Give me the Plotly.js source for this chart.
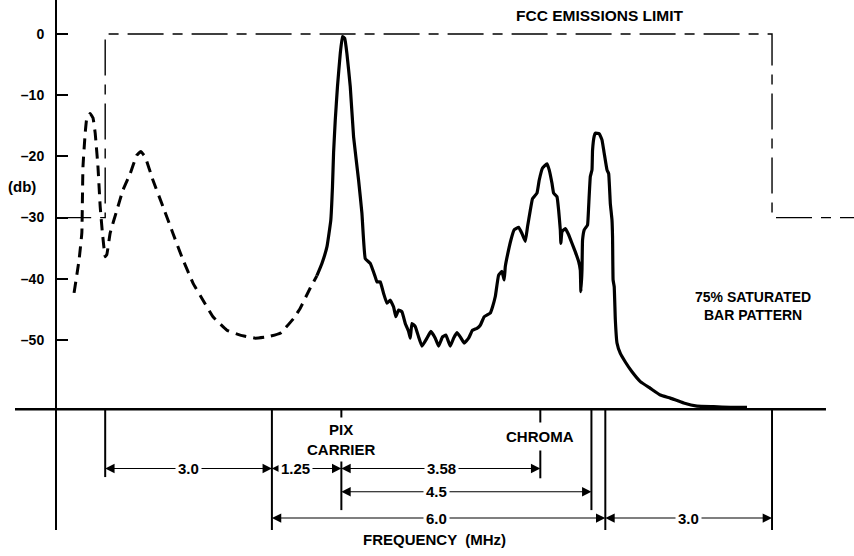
<!DOCTYPE html>
<html>
<head>
<meta charset="utf-8">
<script src="https://cdn.plot.ly/plotly-3.0.1.min.js"></script>
<style>html,body{margin:0;padding:0;background:#fff;}#chart{width:854px;height:556px;}</style>
</head>
<body>
<div id="chart"></div>
<script>
// ---- data (frequency in MHz relative to lower channel edge, level in dB) ----
const dashedFreq = [-3.56,-3.47,-3.42,-3.41,-3.40,-3.36,-3.33,-3.27,-3.22,-3.18,-3.13,-3.09,-3.05,-3.00,-2.97,-2.91,-2.79,-2.68,-2.55,-2.43,-2.36,-2.28,-2.14,-1.96,-1.78,-1.60,-1.42,-1.24,-1.06,-0.81,-0.57,-0.30,-0.09,0.15,0.39,0.51,0.69,0.81];
const dashedLevel = [-42.3,-36.9,-32.5,-27.1,-21.7,-16.2,-13.7,-13.0,-13.7,-16.2,-21.7,-28.2,-32.5,-36.4,-36.0,-32.5,-28.8,-25.5,-22.8,-19.8,-19.2,-20.1,-23.9,-28.2,-32.6,-36.9,-40.7,-43.5,-46.2,-48.4,-49.2,-49.7,-49.5,-48.9,-46.5,-44.8,-41.5,-39.5];

const solidFreq = [0.81,0.90,0.99,1.06,1.09,1.11,1.14,1.18,1.23,1.27,1.31,1.35,1.41,1.47,1.56,1.62,1.68,1.77,1.86,1.89,1.95,2.01,2.07,2.13,2.19,2.23,2.28,2.34,2.40,2.46,2.49,2.52,2.58,2.64,2.70,2.79,2.86,2.94,3.00,3.07,3.13,3.21,3.27,3.33,3.39,3.46,3.54,3.61,3.69,3.75,3.82,3.93,3.97,4.02,4.08,4.14,4.18,4.20,4.24,4.30,4.36,4.44,4.50,4.56,4.60,4.65,4.69,4.77,4.81,4.87,4.95,4.99,5.04,5.07,5.13,5.16,5.19,5.20,5.22,5.28,5.34,5.40,5.46,5.52,5.55,5.56,5.58,5.59,5.62,5.68,5.70,5.73,5.76,5.77,5.80,5.82,5.89,5.94,5.98,6.03,6.06,6.09,6.12,6.13,6.14,6.16,6.18,6.21,6.27,6.36,6.48,6.63,6.81,6.99,7.17,7.41,7.65,7.95,8.25,8.55];
const solidLevel = [-39.5,-37.5,-34.8,-30.4,-25.0,-19.4,-14.1,-8.6,-3.2,-0.4,-0.7,-3.2,-8.6,-16.8,-23.9,-29.3,-36.7,-37.5,-39.7,-40.5,-40.5,-42.4,-44.0,-43.5,-44.6,-46.2,-45.1,-45.4,-47.3,-48.6,-49.7,-47.3,-47.8,-49.5,-51.0,-49.7,-48.6,-49.7,-51.0,-49.5,-49.2,-51.0,-49.7,-48.8,-49.5,-50.5,-49.7,-48.4,-48.1,-47.6,-46.2,-45.6,-44.6,-42.9,-39.4,-38.8,-40.2,-38.0,-36.1,-33.7,-32.0,-31.6,-32.6,-33.9,-31.5,-28.8,-26.9,-26.0,-23.9,-21.9,-21.2,-22.2,-24.4,-26.0,-26.6,-28.8,-32.0,-34.2,-32.3,-31.8,-32.8,-34.2,-35.6,-37.2,-38.6,-42.1,-38.6,-33.7,-32.0,-31.2,-28.2,-23.3,-22.2,-19.0,-16.7,-16.2,-16.3,-17.3,-19.5,-22.2,-22.8,-27.7,-30.4,-33.1,-40.2,-41.3,-46.7,-50.5,-52.2,-53.6,-55.2,-56.8,-57.9,-59.0,-59.5,-60.3,-60.8,-60.9,-61.0,-61.0];

const fccFreq  = [-3.9, -3.0, -3.0, 9.0, 9.0, 10.5];
const fccLevel = [-30, -30, 0, 0, -30, -30];

const yTickVals = [0, -10, -20, -30, -40, -50];
const yTickText = ['0', '–10', '–20', '–30', '–40', '–50'];

const markerFreq = [-3.0, 0, 1.25, 4.83, 5.75, 6.0, 9.0];
const dimFrom   = [-3.0, 0, 1.25, 1.25, 0, 6.0];
const dimTo     = [0, 1.25, 4.83, 5.75, 6.0, 9.0];
const dimLabels = ['3.0', '1.25', '3.58', '4.5', '6.0', '3.0'];

// ---- layout helpers ----
const FONT = 'Liberation Sans, Arial, Helvetica, sans-serif';
const BASE = -61.3;                  // horizontal frequency baseline
const ROW = [-71.0, -74.8, -79.1];   // dimension-line rows
const BOTTOM = -81.05;
const markerEnd = [-72.4, BOTTOM, -77.8, -72.6, -77.8, BOTTOM, BOTTOM];
const dimRow = [ROW[0], ROW[0], ROW[0], ROW[1], ROW[2], ROW[2]];
const dimLabelX = [-1.5, 0.42, 3.05, 2.97, 2.97, 7.5];

const traces = [
  {x: fccFreq, y: fccLevel, mode: 'lines', line: {color: '#000', width: 1.4, dash: '36px,9px,10px,9px'}, hoverinfo: 'skip'},
  {x: dashedFreq, y: dashedLevel, mode: 'lines', line: {color: '#000', width: 3, dash: '11px,7px', shape: 'spline', smoothing: 0.3}, hoverinfo: 'skip'},
  {x: solidFreq, y: solidLevel, mode: 'lines', line: {color: '#000', width: 3.2, shape: 'spline', smoothing: 0.3}, hoverinfo: 'skip'}
];

const shapes = [
  {type: 'line', xref: 'paper', yref: 'y', x0: 0, x1: 0.9666, y0: BASE, y1: BASE, line: {color: '#000', width: 2.5}}
];
markerFreq.forEach((f, i) => {
  shapes.push({type: 'line', xref: 'x', yref: 'y', x0: f, x1: f, y0: BASE, y1: markerEnd[i], line: {color: '#000', width: 2}});
});

const annotations = [];
const arrowStyle = {showarrow: true, arrowhead: 2, arrowsize: 1.7, arrowwidth: 1.1, arrowcolor: '#000', standoff: 0, startstandoff: 0, text: '', axref: 'x', ayref: 'y', xref: 'x', yref: 'y'};
dimLabels.forEach((lab, i) => {
  annotations.push(Object.assign({}, arrowStyle, {x: dimFrom[i], y: dimRow[i], ax: dimLabelX[i], ay: dimRow[i]}));
  annotations.push(Object.assign({}, arrowStyle, {x: dimTo[i], y: dimRow[i], ax: dimLabelX[i], ay: dimRow[i]}));
});
dimLabels.forEach((lab, i) => {
  annotations.push({x: dimLabelX[i], y: dimRow[i], xref: 'x', yref: 'y', text: lab, showarrow: false, bgcolor: '#fff', borderpad: 2,
    font: {family: FONT, size: 15, color: '#000', weight: 'bold'}});
});
const txt = (x, y, t, size, extra) => Object.assign({x: x, y: y, xref: 'x', yref: 'y', text: t, showarrow: false,
  font: {family: FONT, size: size, color: '#000', weight: 'bold'}}, extra || {});
annotations.push(txt(markerFreq[2], -66.3, 'PIX<br>CARRIER', 15, {bgcolor: '#fff', borderpad: 3}));
annotations.push(txt(markerFreq[3], -65.7, 'CHROMA', 15, {bgcolor: '#fff', borderpad: 5}));
annotations.push(txt(5.9, 3.1, 'FCC EMISSIONS LIMIT', 15.5));
annotations.push(txt(8.65, -44.4, '75% SATURATED<br>BAR PATTERN', 14));
annotations.push(txt(-4.5, -25.0, '(db)', 15));

const layout = {
  width: 854, height: 556,
  margin: {l: 15, r: 0, t: 0, b: 26},
  paper_bgcolor: '#fff', plot_bgcolor: '#fff',
  showlegend: false,
  xaxis: {range: [-4.623, 10.475], showline: false, showgrid: false, zeroline: false, ticks: '', showticklabels: false, automargin: false,
    title: {text: 'FREQUENCY  (MHz)', standoff: 4, font: {family: FONT, size: 15, color: '#000', weight: 'bold'}}},
  yaxis: {range: [-81.05, 5.556], anchor: 'free', position: 0.04887, showgrid: false, zeroline: false,
    showline: true, linecolor: '#000', linewidth: 2,
    ticks: 'inside', ticklen: 11, tickwidth: 2, tickcolor: '#000',
    tickvals: yTickVals, ticktext: yTickText, ticklabelstandoff: 8, automargin: false,
    tickfont: {family: FONT, size: 14, color: '#000', weight: 'bold'}},
  shapes: shapes,
  annotations: annotations
};

Plotly.newPlot('chart', traces, layout, {displayModeBar: false, staticPlot: true});
</script>
</body>
</html>
